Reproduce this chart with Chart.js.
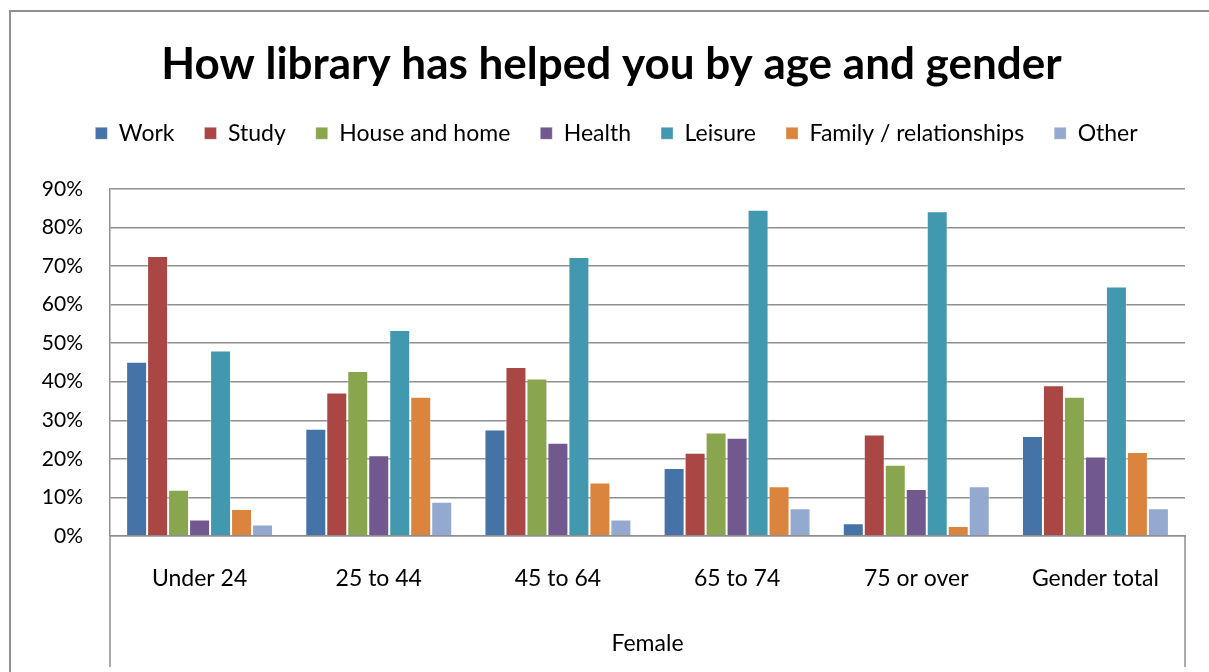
<!DOCTYPE html>
<html>
<head>
<meta charset="utf-8">
<script src="https://cdn.jsdelivr.net/npm/chart.js@4/dist/chart.umd.min.js"></script>
<style>
  html, body { margin: 0; padding: 0; background: #fff; }
  #wrap { position: relative; width: 1209px; height: 672px; overflow: hidden; }
  #frame { position: absolute; left: 9px; top: 10px; width: 1300px; height: 800px;
           border-left: 2px solid #8f8f8f; border-top: 2px solid #8f8f8f; }
  canvas { position: absolute; left: 0; top: 0; }
</style>
</head>
<body>
<div id="wrap">
  <div id="frame"></div>
  <canvas id="c" width="1209" height="672"></canvas>
</div>
<script>
const categories = ['Under 24', '25 to 44', '45 to 64', '65 to 74', '75 or over', 'Gender total'];
const groupLabel = 'Female';
const chartTitle = 'How library has helped you by age and gender';
const seriesNames = ['Work', 'Study', 'House and home', 'Health', 'Leisure', 'Family / relationships', 'Other'];
const work    = [45.2, 27.8, 27.6, 17.6,  3.3, 25.9];
const study   = [72.6, 37.2, 43.8, 21.6, 26.3, 39.1];
const house   = [12.0, 42.8, 40.8, 26.8, 18.5, 36.1];
const health  = [ 4.3, 20.9, 24.2, 25.5, 12.2, 20.6];
const leisure = [48.1, 53.4, 72.3, 84.6, 84.2, 64.7];
const family  = [ 7.0, 36.1, 13.9, 12.9,  2.6, 21.8];
const other   = [ 3.0,  8.9,  4.3,  7.2, 12.9,  7.2];
const yMax = 90;
const yStep = 10;

const colors = ['#4572A7', '#AA4643', '#89A54E', '#71588F', '#4198AF', '#DB843D', '#93A9CF'];
const values = [work, study, house, health, leisure, family, other];

const FONT = 'Lato, "Open Sans", sans-serif';

const frameLines = {
  id: 'frameLines',
  beforeLayout(chart) {
    const lg = chart.legend;
    if (lg && !lg._patched) {
      const orig = lg.fit.bind(lg);
      lg.fit = function () { orig(); this.height += 34; };
      lg._patched = true;
    }
  },
  afterLayout(chart) {
    if (chart.titleBlock) { chart.titleBlock.left += 19; chart.titleBlock.right += 19; }
    if (chart.legend) { chart.legend.left += 24; chart.legend.right += 24; }
  },
  afterDraw(chart) {
    const ctx = chart.ctx, a = chart.chartArea;
    ctx.save();
    ctx.strokeStyle = '#8f8f8f';
    ctx.lineWidth = 1.5;
    ctx.beginPath();
    ctx.moveTo(a.left, a.bottom); ctx.lineTo(a.left, 667);
    ctx.moveTo(a.right, a.bottom); ctx.lineTo(a.right, 667);
    ctx.stroke();
    ctx.restore();
  }
};

new Chart(document.getElementById('c'), {
  type: 'bar',
  data: {
    labels: categories,
    datasets: seriesNames.map((n, i) => ({
      label: n,
      data: values[i],
      backgroundColor: colors[i],
      borderColor: 'rgba(255,255,255,0.35)',
      borderWidth: 1,
      categoryPercentage: 0.82,
      barPercentage: 1.0
    }))
  },
  options: {
    responsive: false,
    animation: false,
    layout: { padding: { top: 0, left: 0, right: 24, bottom: 0 } },
    plugins: {
      title: {
        display: true,
        text: chartTitle,
        color: '#000',
        font: { family: FONT, size: 44, weight: 'bold' },
        padding: { top: 38, bottom: 1 }
      },
      legend: {
        position: 'top',
        labels: {
          color: '#000',
          font: { family: FONT, size: 23 },
          boxWidth: 12,
          boxHeight: 12,
          padding: 30
        }
      },
      tooltip: { enabled: false }
    },
    scales: {
      x: {
        grid: { display: false, drawTicks: false },
        border: { display: true, color: '#8f8f8f', width: 1.5 },
        ticks: { color: '#000', font: { family: FONT, size: 23 }, padding: 29, maxRotation: 0 },
        title: { display: true, text: groupLabel, color: '#000', font: { family: FONT, size: 23 }, padding: { top: 15, bottom: 15 } },
        afterFit(s) { s.height = 136; }
      },
      y: {
        min: 0, max: yMax,
        grid: { color: '#8f8f8f', lineWidth: 1.5, drawTicks: false },
        border: { display: true, color: '#8f8f8f', width: 1.5 },
        ticks: {
          stepSize: yStep, color: '#000', padding: 27,
          font: { family: FONT, size: 21 },
          callback: v => v + '%'
        },
        afterFit(s) { s.width = 110; }
      }
    }
  },
  plugins: [frameLines]
});
</script>
</body>
</html>
